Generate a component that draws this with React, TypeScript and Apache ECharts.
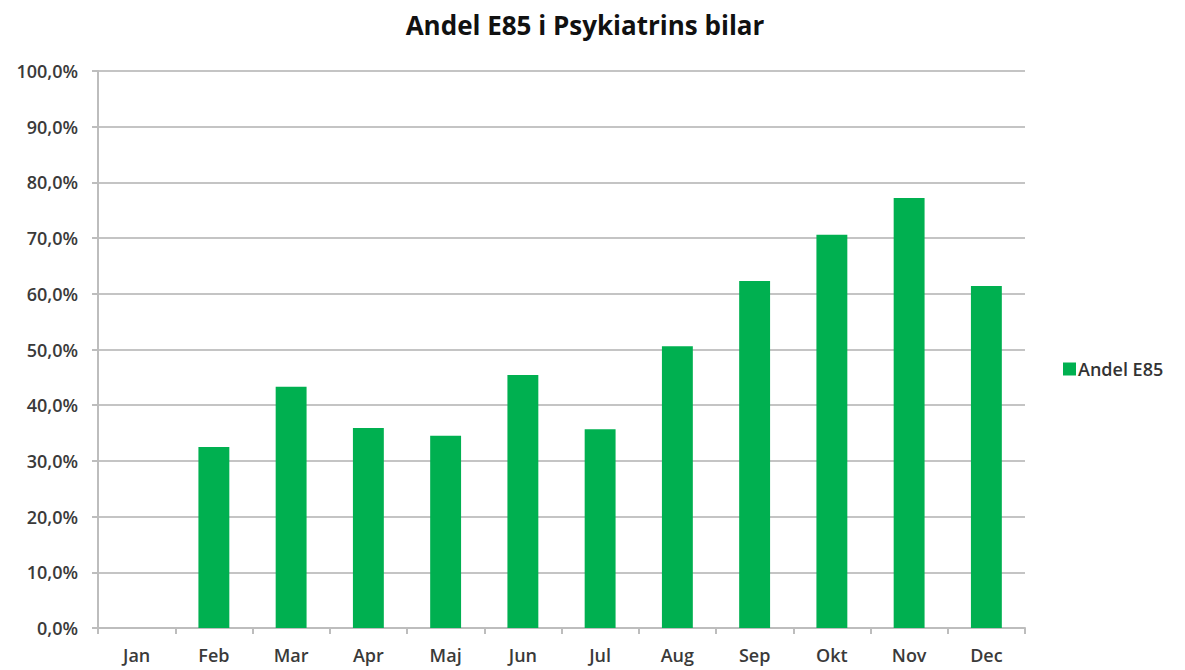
import React, { useEffect, useRef } from "react";
import * as echarts from "echarts";

const title = "Andel E85 i Psykiatrins bilar";
const seriesName = "Andel E85";
const months = ["Jan", "Feb", "Mar", "Apr", "Maj", "Jun", "Jul", "Aug", "Sep", "Okt", "Nov", "Dec"];
const shares = [null, 32.5, 43.3, 35.9, 34.5, 45.4, 35.7, 50.6, 62.3, 70.6, 77.2, 61.4];

export default function App() {
  const ref = useRef<HTMLDivElement>(null);
  useEffect(() => {
    if (!ref.current) return;
    const chart = echarts.init(ref.current, null, { renderer: "svg" });
    chart.setOption({
      animation: false,
      backgroundColor: "#ffffff",
      title: {
        text: title,
        left: 580,
        textAlign: "center",
        top: 7,
        textStyle: { fontFamily: "Open Sans", fontSize: 26, fontWeight: "bold", color: "#111" },
      },
      legend: {
        data: [seriesName],
        orient: "vertical",
        left: 1058,
        top: 355,
        itemWidth: 13,
        itemHeight: 13,
        itemGap: 4,
        icon: "rect",
        textStyle: { fontFamily: "Open Sans", fontSize: 18, fontWeight: 600, color: "#333", padding: [0, 0, 0, -3] },
      },
      grid: { left: 98, right: 160, top: 71, bottom: 42 },
      xAxis: {
        type: "category",
        data: months,
        axisLine: { lineStyle: { color: "#bdbdbd", width: 2 } },
        axisTick: { show: true, length: 6, lineStyle: { color: "#bdbdbd", width: 2 } },
        axisLabel: { fontFamily: "Open Sans", fontSize: 18, fontWeight: 600, color: "#3a3a3a", margin: 18 },
      },
      yAxis: {
        type: "value",
        min: 0,
        max: 100,
        interval: 10,
        axisLine: { show: true, lineStyle: { color: "#bdbdbd", width: 2 } },
        axisTick: { show: true, length: 6, lineStyle: { color: "#bdbdbd", width: 2 } },
        splitLine: { lineStyle: { color: "#c4c4c4", width: 2 } },
        axisLabel: {
          fontFamily: "Open Sans",
          fontSize: 18,
          fontWeight: 600,
          color: "#3a3a3a",
          margin: 20,
          formatter: (v: number) => v.toFixed(1).replace(".", ",") + "%",
        },
      },
      series: [
        {
          name: seriesName,
          type: "bar",
          data: shares,
          barWidth: "40%",
          itemStyle: { color: "#00B050" },
        },
      ],
    });
    return () => chart.dispose();
  }, []);
  return <div ref={ref} style={{ width: 1185, height: 670, position: "absolute", left: 0, top: 0 }} />;
}
